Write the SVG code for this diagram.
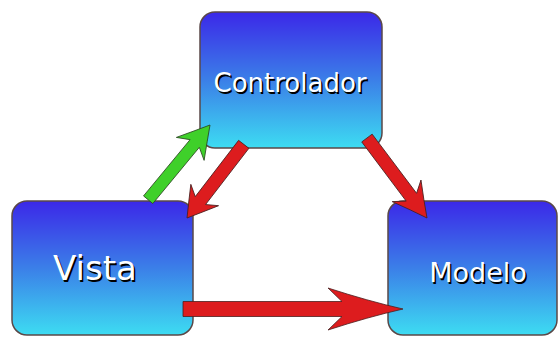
<svg xmlns="http://www.w3.org/2000/svg" width="559" height="337" viewBox="0 0 559 337">
<defs>
<linearGradient id="g" x1="0" y1="0" x2="0" y2="1">
<stop offset="0" stop-color="#3b28e8"/>
<stop offset="0.5" stop-color="#3b7fe8"/>
<stop offset="1" stop-color="#3ddcf2"/>
</linearGradient>
<style>
.box{fill:url(#g);stroke:#5a4848;stroke-width:1.5}
.lbl{font-family:"DejaVu Sans",sans-serif;text-anchor:middle}
.sh{fill:#000}
.fg{fill:#fff}
.red{fill:#dd1c1e;stroke:#4a2020;stroke-width:0.8;stroke-linejoin:round}
.green{fill:#3fd02a;stroke:#2a4a20;stroke-width:0.8;stroke-linejoin:round}
</style>
</defs>
<rect width="559" height="337" fill="#fff"/>
<g id="controlador">
<rect class="box" x="200" y="12" width="182" height="136" rx="15"/>
<text class="lbl sh" x="291.5" y="93.5" font-size="26">Controlador</text>
<text class="lbl fg" x="290" y="92" font-size="26">Controlador</text>
</g>
<g id="vista">
<rect class="box" x="12" y="201" width="181" height="134" rx="15"/>
<text class="lbl sh" x="96.5" y="281.5" font-size="34">Vista</text>
<text class="lbl fg" x="95" y="280" font-size="34">Vista</text>
</g>
<g id="modelo">
<rect class="box" x="388" y="201" width="169" height="134" rx="15"/>
<text class="lbl sh" x="479.5" y="283.5" font-size="27">Modelo</text>
<text class="lbl fg" x="478" y="282" font-size="27">Modelo</text>
</g>
<g id="connectors">
<path class="green" transform="translate(210,125) rotate(-50.4)" d="M-97,-6 L-24,-6 L-31,-18 Q-14,-8 0,0 Q-14,8 -31,18 L-24,6 L-97,6 Z"/>
<path class="red" transform="translate(187,218) rotate(127.6)" d="M-93,-6.5 L-22,-6.5 L-29,-17.5 Q-13,-8 0,0 Q-13,8 -29,17.5 L-22,6.5 L-93,6.5 Z"/>
<path class="red" transform="translate(427,218) rotate(53.1)" d="M-100,-6.5 L-26,-6.5 L-34,-18 Q-16,-8 0,0 Q-16,8 -34,18 L-26,6.5 L-100,6.5 Z"/>
<path class="red" transform="translate(403,309)" d="M-220,-7.5 L-61,-7.5 L-75,-21 Q-35,-8 0,0 Q-35,8 -75,21 L-61,7.5 L-220,7.5 Z"/>
</g>
</svg>
